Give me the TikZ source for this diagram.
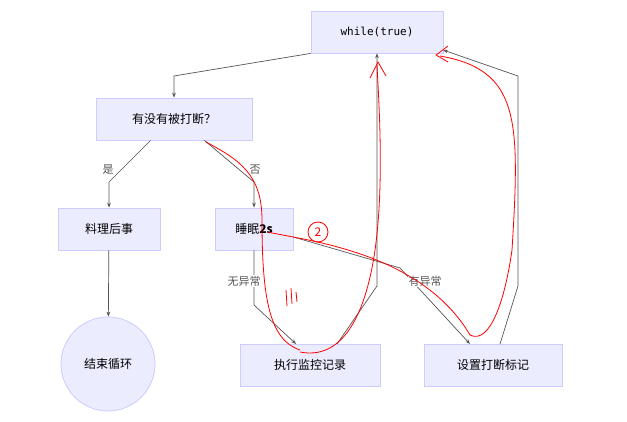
\documentclass[tikz,border=0pt]{standalone}
\usepackage{fontspec}
\setmainfont{Noto Sans CJK SC}
\setmonofont{DejaVu Sans Mono}
\usepackage{tikz}
\usetikzlibrary{arrows.meta}
\usetikzlibrary{positioning}
\definecolor{boxfill}{HTML}{ECECFF}
\definecolor{boxline}{HTML}{CCCCFF}
\definecolor{edgegray}{HTML}{555555}
\definecolor{labelgray}{HTML}{555555}

\tikzset{
	box/.style={
		draw=boxline, fill=boxfill, line width=0.8pt,
		minimum height=42pt, inner sep=0pt, font=\fontsize{12}{14}\selectfont
	},
	flow/.style={color=edgegray, line width=0.7pt, -{Stealth[length=5pt]}},
	lbl/.style={fill=white, text=labelgray, inner sep=1pt, font=\fontsize{11}{13}\selectfont},
	scribble/.style={color=red, line width=0.8pt}
}

\begin{document}
\begin{tikzpicture}[x=1pt, y=-1pt]
	\useasboundingbox[fill=white] (0,0) rectangle (627,422);

	% nodes
	\node[box, minimum width=132pt, font=\ttfamily\fontsize{11}{13}\selectfont]
		(loop) at (377,32) {while(true)};
	\node[box, minimum width=156pt]
		(ask) at (174,119) {有没有被打断？};
	\node[box, minimum width=102pt]
		(clean) at (109,229) {料理后事};
	\node[box, minimum width=78pt]
		(sleep) at (254,229) {睡眠\textbf{2s}};
	\node[box, circle, minimum width=94pt]
		(stop) at (108,364) {结束循环};
	\node[box, minimum width=140pt]
		(log) at (310,365) {执行监控记录};
	\node[box, minimum width=138pt]
		(mark) at (493,365) {设置打断标记};

	% connectors
	\draw[flow]
		(loop.south west) -- (174,76) -- (ask.north);
	\draw[flow]
		(ask.south west) ++(55,0) -- (109,182) -- (clean.north);
	\draw[flow]
		(ask.south east) ++(-48,0) -- (254,182) -- (sleep.north);
	\draw[flow]
		(clean) -- (stop);
	\draw[flow]
		(sleep.south) -- (254,305) -- (296,344);
	\draw[flow]
		(sleep.east) ++(0,8) -- (400,268) -- (470,344);
	\draw[flow]
		(337,344) -- (377,286) -- (loop.south);
	\draw[flow]
		(500,344) -- (518,286) -- (518,76) -- (443,50);

	\node[lbl] at (108,170) {是};
	\node[lbl] at (255,170) {否};
	\node[lbl] at (244,281) {无异常};
	\node[lbl] at (425,281) {有异常};

	% red pen marks
	\draw[scribble]
		(206,142) .. controls (240,160) and (262,175) .. (262,220)
		.. controls (262,300) and (270,340) .. (300,350);
	\draw[scribble]
		(268,232) .. controls (300,240) and (420,250) .. (470,335)
		.. controls (490,345) and (505,300) .. (512,250)
		.. controls (520,120) and (520,70) .. (440,56);
	\draw[scribble]
		(300,352) .. controls (340,360) and (365,320) .. (375,250)
		.. controls (385,180) and (378,90) .. (377,65);
	\draw[scribble]
		(370,78) -- (378,62) -- (386,76);
	\draw[scribble]
		(448,62) -- (436,55) -- (448,46);
	\draw[scribble]
		(318,232) circle (10pt);
	\node[text=red, font=\fontsize{12}{14}\selectfont] at (318,232) {2};
	\draw[scribble]
		(286,290) -- (287,306) (291,288) -- (292,304) (296,292) -- (297,302);
\end{tikzpicture}
\end{document}
